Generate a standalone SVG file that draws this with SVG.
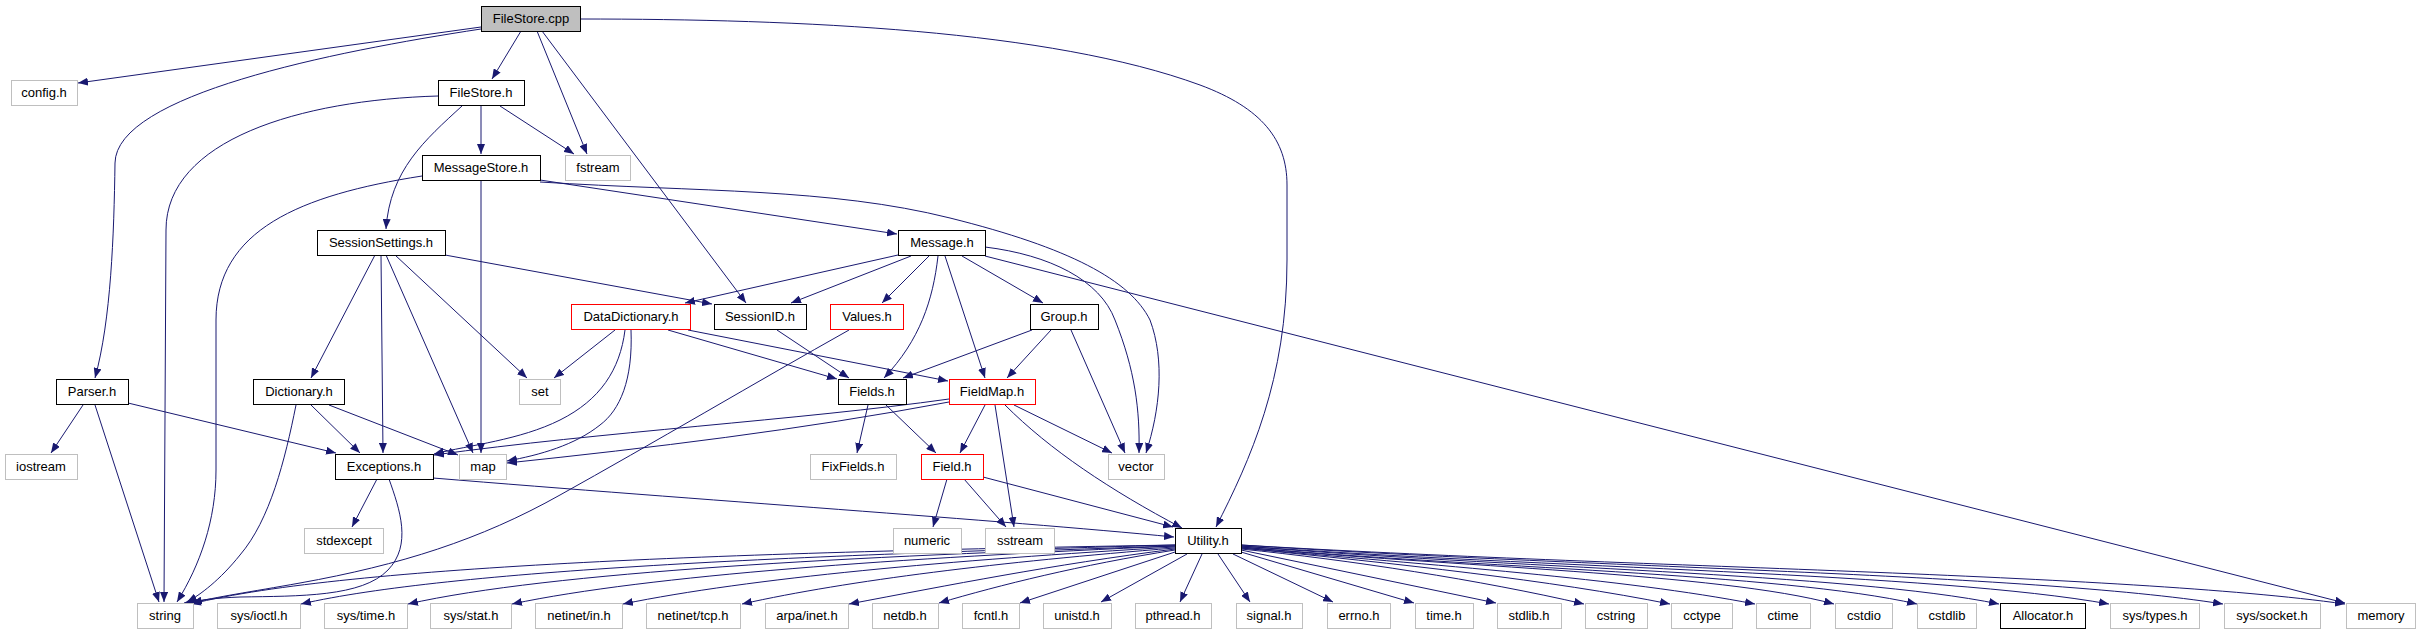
<svg xmlns="http://www.w3.org/2000/svg" width="2421" height="635" viewBox="0 0 2421 635">
<defs>
<marker id="a" markerWidth="10" markerHeight="8" refX="10" refY="4" orient="auto" markerUnits="userSpaceOnUse"><path d="M0,0 L10,4 L0,8 z" fill="#191970"/></marker>
<style>
rect{fill:#fff;stroke:#000;stroke-width:1}
.g rect{stroke:#bfbfbf}
.r rect{stroke:#ff0000}
.root rect{fill:#bfbfbf}
text{font-family:"Liberation Sans",Arial,sans-serif;font-size:13px;text-anchor:middle;fill:#000}
#edges path{fill:none;stroke:#191970;stroke-width:1;marker-end:url(#a)}
</style>
</defs>
<rect x="0" y="0" width="2421" height="635" style="fill:#fff;stroke:none"/>
<g id="edges">
<path d="M481,27 L78,83"/>
<path d="M481,29 C330,52 116,95 115,163 C114,235 111,320 95,378"/>
<path d="M521,31 L492,79"/>
<path d="M537,31 L587,154"/>
<path d="M542,31 L746,303"/>
<path d="M580,19 C800,19 1050,30 1200,85 C1262,108 1287,140 1287,185 L1287,260 C1287,380 1250,460 1216,527"/>
<path d="M438,96 C300,100 166,140 166,230 L164,602"/>
<path d="M462,106 C425,140 390,170 386,229"/>
<path d="M481,106 L481,154"/>
<path d="M500,106 L574,154"/>
<path d="M422,176 C300,195 216,230 216,320 L216,470 C216,520 200,565 177,602"/>
<path d="M481,180 L481,453"/>
<path d="M540,180 L897,234"/>
<path d="M540,182 C700,192 830,188 950,218 C1070,248 1130,280 1150,320 C1165,360 1160,410 1146,453"/>
<path d="M375,255 L311,378"/>
<path d="M381,255 L383,453"/>
<path d="M386,255 L473,453"/>
<path d="M395,255 L527,378"/>
<path d="M445,255 L712,304"/>
<path d="M898,255 L685,303"/>
<path d="M911,256 L791,303"/>
<path d="M929,256 L882,303"/>
<path d="M938,256 C933,300 920,340 884,378"/>
<path d="M945,256 L985,378"/>
<path d="M962,256 L1043,303"/>
<path d="M985,247 C1050,255 1100,280 1115,320 C1135,370 1140,410 1139,453"/>
<path d="M985,256 L2345,603"/>
<path d="M615,330 L554,378"/>
<path d="M625,330 C620,370 600,400 560,420 C520,440 470,445 434,454"/>
<path d="M631,330 C633,380 620,410 600,425 C575,445 540,455 507,461"/>
<path d="M668,330 L837,379"/>
<path d="M688,330 L948,381"/>
<path d="M777,330 L849,378"/>
<path d="M849,330 C760,380 650,445 560,495 C480,540 400,565 300,583 C250,592 215,597 192,603"/>
<path d="M1032,330 L903,378"/>
<path d="M1051,330 L1007,378"/>
<path d="M1071,330 L1125,453"/>
<path d="M83,405 L51,453"/>
<path d="M95,405 L159,602"/>
<path d="M128,403 L336,453"/>
<path d="M296,405 C285,460 270,520 240,555 C220,580 200,595 187,602"/>
<path d="M311,405 L360,453"/>
<path d="M329,405 L458,455"/>
<path d="M377,479 L352,527"/>
<path d="M389,479 C400,510 412,545 388,570 C362,597 300,596 240,597 C215,598 200,600 184,603"/>
<path d="M433,478 C700,500 1000,520 1174,537"/>
<path d="M868,405 L857,453"/>
<path d="M886,405 L936,453"/>
<path d="M949,399 C800,420 600,432 434,455"/>
<path d="M949,402 C800,430 650,448 507,463"/>
<path d="M985,405 L960,453"/>
<path d="M995,405 L1014,527"/>
<path d="M1005,405 C1050,450 1110,490 1182,528"/>
<path d="M1014,405 L1112,453"/>
<path d="M947,479 L933,527"/>
<path d="M964,479 L1006,527"/>
<path d="M983,477 L1173,527"/>
<path d="M1175,545 C750,552 350,565 191,604"/>
<path d="M1175,545 C800,555 450,570 301,604"/>
<path d="M1175,546 C850,556 550,572 408,604"/>
<path d="M1175,546 C900,558 650,575 512,604"/>
<path d="M1175,547 C950,560 750,578 623,604"/>
<path d="M1175,548 C1000,562 850,580 742,604"/>
<path d="M1175,549 C1050,565 950,585 849,604"/>
<path d="M1175,550 C1080,565 1000,585 939,603"/>
<path d="M1175,552 L1020,603"/>
<path d="M1187,554 L1101,602"/>
<path d="M1202,554 L1180,602"/>
<path d="M1218,554 L1250,602"/>
<path d="M1233,554 L1333,602"/>
<path d="M1241,552 L1414,603"/>
<path d="M1241,550 L1496,603"/>
<path d="M1241,549 C1350,560 1480,580 1584,604"/>
<path d="M1241,548 C1400,564 1550,580 1670,604"/>
<path d="M1241,548 C1440,566 1620,578 1755,604"/>
<path d="M1241,547 C1450,567 1720,573 1834,604"/>
<path d="M1241,547 C1475,568 1780,573 1917,604"/>
<path d="M1241,546 C1505,568 1848,573 1999,604"/>
<path d="M1241,546 C1543,568 1936,573 2109,604"/>
<path d="M1241,545 C1585,568 2027,573 2223,604"/>
<path d="M1241,545 C1628,568 2124,573 2345,604"/>
</g>
<g id="n-filestore-cpp" class="root"><rect x="481.5" y="6.5" width="99" height="25"/><text x="531" y="23">FileStore.cpp</text></g>
<g id="n-config" class="g"><rect x="11.5" y="80.5" width="66" height="25"/><text x="44" y="97">config.h</text></g>
<g id="n-filestore-h"><rect x="438.5" y="80.5" width="86" height="25"/><text x="481" y="97">FileStore.h</text></g>
<g id="n-messagestore"><rect x="422.5" y="155.5" width="118" height="25"/><text x="481" y="172">MessageStore.h</text></g>
<g id="n-fstream" class="g"><rect x="565.5" y="155.5" width="65" height="25"/><text x="598" y="172">fstream</text></g>
<g id="n-sessionsettings"><rect x="317.5" y="230.5" width="128" height="25"/><text x="381" y="247">SessionSettings.h</text></g>
<g id="n-message"><rect x="898.5" y="230.5" width="87" height="25"/><text x="942" y="247">Message.h</text></g>
<g id="n-datadictionary" class="r"><rect x="571.5" y="304.5" width="119" height="25"/><text x="631" y="321">DataDictionary.h</text></g>
<g id="n-sessionid"><rect x="714.5" y="304.5" width="92" height="25"/><text x="760" y="321">SessionID.h</text></g>
<g id="n-values" class="r"><rect x="830.5" y="304.5" width="73" height="25"/><text x="867" y="321">Values.h</text></g>
<g id="n-group"><rect x="1030.5" y="304.5" width="68" height="25"/><text x="1064" y="321">Group.h</text></g>
<g id="n-parser"><rect x="56.5" y="379.5" width="72" height="25"/><text x="92" y="396">Parser.h</text></g>
<g id="n-dictionary"><rect x="253.5" y="379.5" width="91" height="25"/><text x="299" y="396">Dictionary.h</text></g>
<g id="n-set" class="g"><rect x="519.5" y="379.5" width="41" height="25"/><text x="540" y="396">set</text></g>
<g id="n-fields"><rect x="838.5" y="379.5" width="68" height="25"/><text x="872" y="396">Fields.h</text></g>
<g id="n-fieldmap" class="r"><rect x="949.5" y="379.5" width="86" height="25"/><text x="992" y="396">FieldMap.h</text></g>
<g id="n-iostream" class="g"><rect x="5.5" y="454.5" width="72" height="25"/><text x="41" y="471">iostream</text></g>
<g id="n-exceptions"><rect x="335.5" y="454.5" width="98" height="25"/><text x="384" y="471">Exceptions.h</text></g>
<g id="n-map" class="g"><rect x="459.5" y="454.5" width="47" height="25"/><text x="483" y="471">map</text></g>
<g id="n-fixfields" class="g"><rect x="810.5" y="454.5" width="86" height="25"/><text x="853" y="471">FixFields.h</text></g>
<g id="n-field" class="r"><rect x="921.5" y="454.5" width="62" height="25"/><text x="952" y="471">Field.h</text></g>
<g id="n-vector" class="g"><rect x="1108.5" y="454.5" width="56" height="25"/><text x="1136" y="471">vector</text></g>
<g id="n-stdexcept" class="g"><rect x="304.5" y="528.5" width="79" height="25"/><text x="344" y="545">stdexcept</text></g>
<g id="n-numeric" class="g"><rect x="893.5" y="528.5" width="68" height="25"/><text x="927" y="545">numeric</text></g>
<g id="n-sstream" class="g"><rect x="985.5" y="528.5" width="69" height="25"/><text x="1020" y="545">sstream</text></g>
<g id="n-utility"><rect x="1175.5" y="528.5" width="66" height="25"/><text x="1208" y="545">Utility.h</text></g>
<g id="n-string" class="g"><rect x="137.5" y="603.5" width="56" height="25"/><text x="165" y="620">string</text></g>
<g id="n-sys-ioctl" class="g"><rect x="217.5" y="603.5" width="83" height="25"/><text x="259" y="620">sys/ioctl.h</text></g>
<g id="n-sys-time" class="g"><rect x="324.5" y="603.5" width="83" height="25"/><text x="366" y="620">sys/time.h</text></g>
<g id="n-sys-stat" class="g"><rect x="430.5" y="603.5" width="81" height="25"/><text x="471" y="620">sys/stat.h</text></g>
<g id="n-netinet-in" class="g"><rect x="535.5" y="603.5" width="87" height="25"/><text x="579" y="620">netinet/in.h</text></g>
<g id="n-netinet-tcp" class="g"><rect x="646.5" y="603.5" width="94" height="25"/><text x="693" y="620">netinet/tcp.h</text></g>
<g id="n-arpa-inet" class="g"><rect x="765.5" y="603.5" width="83" height="25"/><text x="807" y="620">arpa/inet.h</text></g>
<g id="n-netdb" class="g"><rect x="872.5" y="603.5" width="66" height="25"/><text x="905" y="620">netdb.h</text></g>
<g id="n-fcntl" class="g"><rect x="962.5" y="603.5" width="57" height="25"/><text x="991" y="620">fcntl.h</text></g>
<g id="n-unistd" class="g"><rect x="1043.5" y="603.5" width="68" height="25"/><text x="1077" y="620">unistd.h</text></g>
<g id="n-pthread" class="g"><rect x="1135.5" y="603.5" width="76" height="25"/><text x="1173" y="620">pthread.h</text></g>
<g id="n-signal" class="g"><rect x="1236.5" y="603.5" width="66" height="25"/><text x="1269" y="620">signal.h</text></g>
<g id="n-errno" class="g"><rect x="1327.5" y="603.5" width="63" height="25"/><text x="1359" y="620">errno.h</text></g>
<g id="n-time" class="g"><rect x="1415.5" y="603.5" width="58" height="25"/><text x="1444" y="620">time.h</text></g>
<g id="n-stdlib" class="g"><rect x="1497.5" y="603.5" width="64" height="25"/><text x="1529" y="620">stdlib.h</text></g>
<g id="n-cstring" class="g"><rect x="1585.5" y="603.5" width="62" height="25"/><text x="1616" y="620">cstring</text></g>
<g id="n-cctype" class="g"><rect x="1671.5" y="603.5" width="61" height="25"/><text x="1702" y="620">cctype</text></g>
<g id="n-ctime" class="g"><rect x="1756.5" y="603.5" width="54" height="25"/><text x="1783" y="620">ctime</text></g>
<g id="n-cstdio" class="g"><rect x="1835.5" y="603.5" width="57" height="25"/><text x="1864" y="620">cstdio</text></g>
<g id="n-cstdlib" class="g"><rect x="1917.5" y="603.5" width="59" height="25"/><text x="1947" y="620">cstdlib</text></g>
<g id="n-allocator"><rect x="2000.5" y="603.5" width="85" height="25"/><text x="2043" y="620">Allocator.h</text></g>
<g id="n-sys-types" class="g"><rect x="2110.5" y="603.5" width="89" height="25"/><text x="2155" y="620">sys/types.h</text></g>
<g id="n-sys-socket" class="g"><rect x="2224.5" y="603.5" width="96" height="25"/><text x="2272" y="620">sys/socket.h</text></g>
<g id="n-memory" class="g"><rect x="2346.5" y="603.5" width="69" height="25"/><text x="2381" y="620">memory</text></g>
</svg>
